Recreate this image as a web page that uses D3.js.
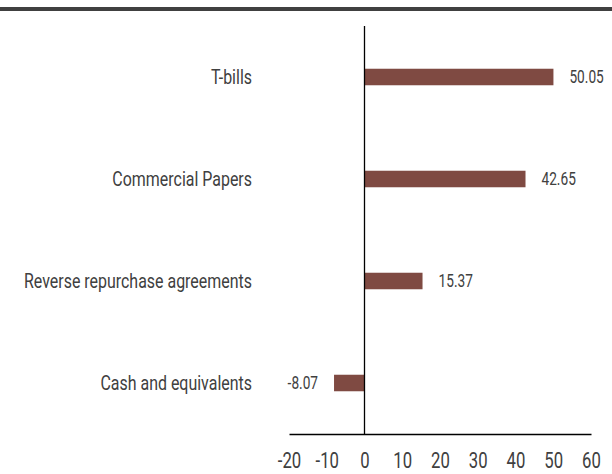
<!DOCTYPE html>
<html>
<head>
<meta charset="utf-8">
<script src="https://cdn.jsdelivr.net/npm/d3@7"></script>
<style>
  body { margin: 0; background: #fff; }
  text { font-family: Roboto, "DejaVu Sans Condensed", sans-serif; fill: #404040; }
</style>
</head>
<body>
<div id="chart"></div>
<script>
// data
const categories = ["T-bills", "Commercial Papers", "Reverse repurchase agreements", "Cash and equivalents"];
const values = [50.05, 42.65, 15.37, -8.07];
const xTicks = [-20, -10, 0, 10, 20, 30, 40, 50, 60];

const data = categories.map((c, i) => ({ name: c, value: values[i] }));

const width = 612, height = 474;
const squeeze = 0.76; // the original uses a condensed face

const svg = d3.select("#chart")
    .append("svg")
    .attr("width", width)
    .attr("height", height);

// top rule
svg.append("rect")
    .attr("x", 0)
    .attr("y", 7)
    .attr("width", width)
    .attr("height", 4)
    .attr("fill", "#404040");

// scales
const x = d3.scaleLinear()
    .domain([-20, 60])
    .range([289, 591]);

const y = d3.scaleBand()
    .domain(categories)
    .range([26, 434])
    .paddingInner(0.838)
    .paddingOuter(0.419);

// bars
svg.selectAll(".bar")
    .data(data)
    .enter().append("rect")
    .attr("class", "bar")
    .attr("x", d => x(Math.min(0, d.value)))
    .attr("y", d => y(d.name))
    .attr("width", d => Math.abs(x(d.value) - x(0)))
    .attr("height", y.bandwidth())
    .attr("fill", "#7f4a42");

// value labels
svg.selectAll(".val")
    .data(data)
    .enter().append("text")
    .attr("class", "val")
    .attr("transform", d => {
        const tx = d.value >= 0 ? x(d.value) + 16 : x(d.value) - 16;
        return `translate(${tx},${y(d.name) + y.bandwidth() / 2}) scale(${squeeze},1)`;
    })
    .attr("dy", "0.35em")
    .attr("text-anchor", d => d.value >= 0 ? "start" : "end")
    .style("font-size", "18px")
    .text(d => d.value.toFixed(2));

// category labels
svg.selectAll(".cat")
    .data(data)
    .enter().append("text")
    .attr("class", "cat")
    .attr("transform", d => `translate(252,${y(d.name) + y.bandwidth() / 2}) scale(${squeeze},1)`)
    .attr("dy", "0.35em")
    .attr("text-anchor", "end")
    .style("font-size", "21px")
    .text(d => d.name);

// zero line
svg.append("line")
    .attr("x1", x(0)).attr("x2", x(0))
    .attr("y1", y.range()[0]).attr("y2", y.range()[1])
    .attr("stroke", "#000")
    .attr("stroke-width", 1.3);

// x axis
const xAxis = svg.append("g")
    .attr("transform", `translate(0,${y.range()[1]})`)
    .call(d3.axisBottom(x).tickValues(xTicks).tickFormat(d => String(d)).tickSize(0).tickPadding(18));

xAxis.select(".domain")
    .attr("stroke", "#000")
    .attr("stroke-width", 1.3);

xAxis.selectAll("text")
    .attr("transform", `scale(${squeeze},1)`)
    .style("font-family", "Roboto, \"DejaVu Sans Condensed\", sans-serif")
    .style("font-size", "22px")
    .attr("fill", "#404040");
</script>
</body>
</html>
